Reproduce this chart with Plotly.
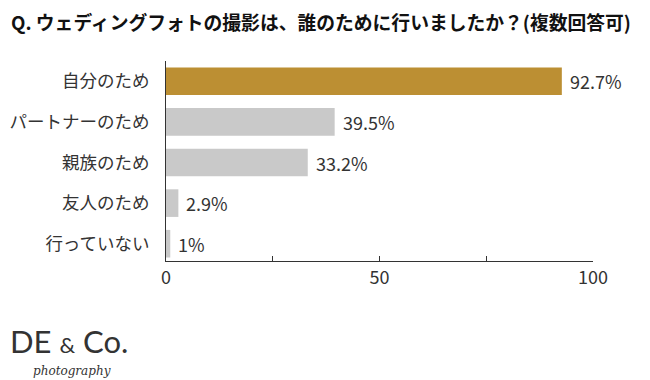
import plotly.graph_objects as go

categories = ["自分のため", "パートナーのため", "親族のため", "友人のため", "行っていない"]
values = [92.7, 39.5, 33.2, 2.9, 1]
bar_colors = ["#BC8F33", "#C9C9C9", "#C9C9C9", "#C9C9C9", "#C9C9C9"]
tick_vals = [0, 25, 50, 75, 100]
tick_text = ["0", "", "50", "", "100"]
title_text = "Q. ウェディングフォトの撮影は、誰のために行いましたか？(複数回答可)"

FONT = "Noto Sans CJK JP"
TXT = "#333333"

# page body has an 8px margin; lay out in window pixels and shift
OFF = 8
W, H = 650 - OFF, 380 - OFF
L, T = 166 - OFF, 61 - OFF
PR, PB = 593 - OFF, 261 - OFF
R, B = W - PR, H - PB
PW, PH = PR - L, PB - T


def px(x):
    return (x - OFF - L) / PW


def py(y):
    return (PB - (y - OFF)) / PH


fig = go.Figure()
fig.add_trace(go.Bar(
    x=values, y=categories, orientation="h",
    marker=dict(color=bar_colors, line=dict(width=0)),
    width=0.68, hoverinfo="skip",
))

for c, v in zip(categories, values):
    fig.add_annotation(x=v, y=c, xref="x", yref="y", text=f"{v:g}%",
                       showarrow=False, xanchor="left", yanchor="middle",
                       xshift=6, font=dict(family=FONT, size=18, color=TXT))

fig.add_annotation(x=px(10), y=py(21), xref="paper", yref="paper",
                   text="<b>" + title_text + "</b>", showarrow=False,
                   xanchor="left", yanchor="middle", borderpad=0,
                   font=dict(family=FONT, size=18.8, color="#111111"))

# logo
fig.add_annotation(x=px(8), y=py(341), xref="paper", yref="paper", xanchor="left", yanchor="middle",
                   text="DE <span style='font-size:22px'>&amp;</span> Co.", showarrow=False,
                   font=dict(family="Lato", size=31, color="#333333", weight=400))
fig.add_annotation(x=px(31), y=py(371), xref="paper", yref="paper", xanchor="left", yanchor="middle",
                   text="<i>photography</i>", showarrow=False,
                   font=dict(family="DejaVu Serif", size=12, color="#333333"))

fig.update_layout(
    width=W, height=H,
    margin=dict(l=L, r=R, t=T, b=B, autoexpand=False),
    paper_bgcolor="white", plot_bgcolor="white",
    showlegend=False,
    xaxis=dict(range=[0, 100], tickvals=tick_vals, ticktext=tick_text,
               ticks="inside", ticklen=5, tickcolor=TXT, tickwidth=1,
               showline=True, linecolor=TXT, linewidth=1,
               showgrid=False, zeroline=False,
               tickfont=dict(family=FONT, size=18, color=TXT)),
    yaxis=dict(type="category", categoryorder="array", categoryarray=categories,
               range=[4.426, -0.5], showline=True, linecolor=TXT, linewidth=1,
               ticks="", showgrid=False, zeroline=False, ticklabelstandoff=12,
               tickfont=dict(family=FONT, size=17.5, color=TXT)),
)

fig.write_html("out.html")
